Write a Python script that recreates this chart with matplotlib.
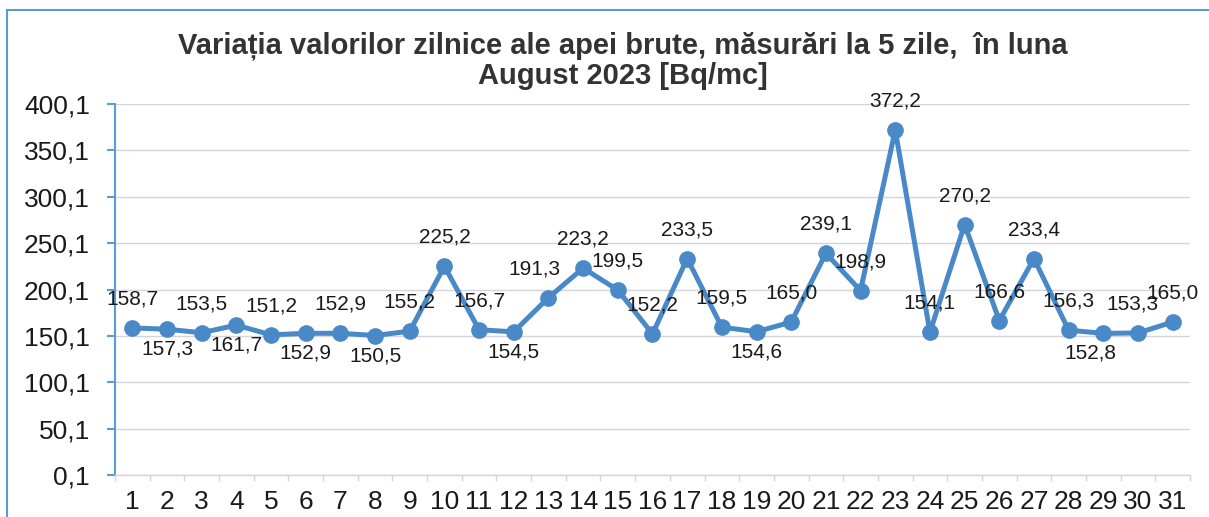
import matplotlib
matplotlib.use("Agg")
import matplotlib.pyplot as plt
from matplotlib.lines import Line2D

plt.rcParams["font.family"] = ["Liberation Sans", "DejaVu Sans"]

days = list(range(1, 32))
values = [158.7, 157.3, 153.5, 161.7, 151.2, 152.9, 152.9, 150.5, 155.2, 225.2,
          156.7, 154.5, 191.3, 223.2, 199.5, 152.2, 233.5, 159.5, 154.6, 165.0,
          239.1, 198.9, 372.2, 154.1, 270.2, 166.6, 233.4, 156.3, 152.8, 153.3,
          165.0]
# label placement: "a" above, "b" below
label_pos = ["a", "b", "a", "b", "a", "b", "a", "b", "a", "a",
             "a", "b", "a", "a", "a", "a", "a", "a", "b", "a",
             "a", "a", "a", "a", "a", "a", "a", "a", "b", "a",
             "a"]
label_dx = {13: -14, 29: -13, 30: -6}

y_ticks = [0.1, 50.1, 100.1, 150.1, 200.1, 250.1, 300.1, 350.1, 400.1]
title = "Variația valorilor zilnice ale apei brute, măsurări la 5 zile,  în luna\nAugust 2023 [Bq/mc]"

LINE_COLOR = "#4a89c8"
AXIS_BLUE = "#5b9bd5"
GRID = "#d4d4dc"

fig = plt.figure(figsize=(12.09, 5.17), dpi=100)
ax = fig.add_axes([0.0951, 0.0812, 0.8892, 0.7176])

ax.plot(days, values, color=LINE_COLOR, lw=3.6, marker="o", markersize=11,
        markerfacecolor=LINE_COLOR, markeredgecolor=LINE_COLOR, zorder=3)

for d, v, p in zip(days, values, label_pos):
    txt = f"{v:.1f}".replace(".", ",")
    dy = 29 if p == "a" else -20
    ax.annotate(txt, (d, v), xytext=(label_dx.get(d, 0), dy),
                textcoords="offset pixels", ha="center", va="center",
                fontsize=15, color="#1a1a1a", zorder=4)

ax.set_xlim(0.5, 31.5)
ax.set_ylim(0.1, 400.1)
ax.set_xticks(days)
ax.set_xticklabels([str(d) for d in days])
ax.set_yticks(y_ticks)
ax.set_yticklabels([f"{t:.1f}".replace(".", ",") for t in y_ticks])
ax.set_xticks([d + 0.5 for d in range(0, 32)], minor=True)

ax.grid(axis="y", color=GRID, lw=1.0)
ax.set_axisbelow(True)
for s in ["top", "right"]:
    ax.spines[s].set_visible(False)
ax.spines["left"].set_color(AXIS_BLUE)
ax.spines["left"].set_linewidth(1.5)
ax.spines["bottom"].set_color(GRID)
ax.spines["bottom"].set_linewidth(1.0)

ax.tick_params(axis="y", colors=AXIS_BLUE, length=6, width=1.5, labelsize=19,
               labelcolor="#1a1a1a", pad=12)
ax.tick_params(axis="x", which="major", length=0, labelsize=19,
               labelcolor="#1a1a1a", pad=11)
ax.tick_params(axis="x", which="minor", length=4, color=GRID, width=1)

fig.text(0.515, 0.882, title, ha="center", va="center", fontsize=21,
         fontweight="bold", color="#333333", linespacing=1.1)

# chart area border (blue frame)
fig.add_artist(Line2D([7 / 1209, 7 / 1209], [0, 1 - 10 / 517],
                      transform=fig.transFigure, color=AXIS_BLUE, lw=1.5))
fig.add_artist(Line2D([7 / 1209, 1], [1 - 10 / 517, 1 - 10 / 517],
                      transform=fig.transFigure, color=AXIS_BLUE, lw=1.5))

fig.savefig("out.png", dpi=100)
